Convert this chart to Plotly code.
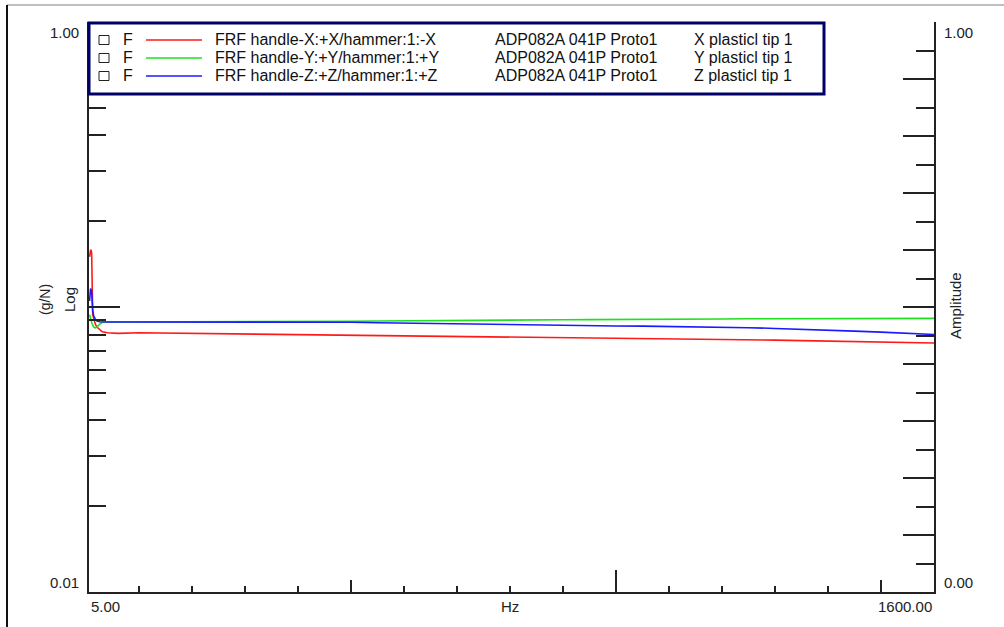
import plotly.graph_objects as go

# frequency axis (Hz)
freq = [6, 7, 8, 9, 10, 12, 14, 17, 20, 25, 30, 40, 60, 100, 150, 200, 250, 300, 350, 400,
        450, 500, 550, 600, 650, 700, 750, 800, 850, 900, 950, 1000, 1050, 1100, 1150, 1200,
        1250, 1300, 1350, 1400, 1450, 1500, 1550, 1600]

# FRF magnitudes (g/N)
frf_x = [0.150, 0.158, 0.158, 0.158, 0.155, 0.094, 0.091, 0.087, 0.085, 0.083, 0.0818, 0.0812,
         0.0808, 0.0812, 0.0810, 0.0809, 0.0806, 0.0807, 0.0804, 0.0803, 0.0801, 0.0797, 0.0795,
         0.0791, 0.0790, 0.0787, 0.0786, 0.0783, 0.0784, 0.0780, 0.0779, 0.0777, 0.0775, 0.0774,
         0.0771, 0.0770, 0.0767, 0.0765, 0.0762, 0.0760, 0.0757, 0.0754, 0.0751, 0.0748]
frf_y = [0.094, 0.093, 0.092, 0.090, 0.088, 0.086, 0.085, 0.0845, 0.0850, 0.0870, 0.0884, 0.0886,
         0.0886, 0.0886, 0.0886, 0.0886, 0.0886, 0.0886, 0.0886, 0.0887, 0.0888, 0.0890, 0.0893,
         0.0895, 0.0896, 0.0897, 0.0898, 0.0900, 0.0901, 0.0902, 0.0903, 0.0903, 0.0905, 0.0906,
         0.0907, 0.0908, 0.0909, 0.0910, 0.0910, 0.0911, 0.0911, 0.0912, 0.0912, 0.0912]
frf_z = [0.105, 0.115, 0.116, 0.115, 0.113, 0.097, 0.093, 0.0905, 0.0893, 0.0888, 0.0886, 0.0886,
         0.0886, 0.0886, 0.0886, 0.0886, 0.0886, 0.0886, 0.0885, 0.0885, 0.0885, 0.0884, 0.0880,
         0.0877, 0.0874, 0.0871, 0.0869, 0.0866, 0.0864, 0.0862, 0.0860, 0.0858, 0.0857, 0.0855,
         0.0853, 0.0850, 0.0846, 0.0841, 0.0836, 0.0830, 0.0823, 0.0816, 0.0808, 0.0801]

colors = ["#ff1a1a", "#1ee01e", "#1a1aff"]
names = ["FRF handle-X:+X/hammer:1:-X", "FRF handle-Y:+Y/hammer:1:+Y", "FRF handle-Z:+Z/hammer:1:+Z"]
devices = ["ADP082A 041P Proto1", "ADP082A 041P Proto1", "ADP082A 041P Proto1"]
tips = ["X plasticl tip 1", "Y plasticl tip 1", "Z plasticl tip 1"]

log_minor = [0.02, 0.03, 0.04, 0.05, 0.06, 0.07, 0.08, 0.09, 0.2, 0.3, 0.4, 0.5, 0.6, 0.7, 0.8, 0.9]

W, H = 1004, 627
L, R, T, B = 89, 934, 22, 592


def px(x):
    return (x - L) / (R - L)


def py(y):
    return (B - y) / (B - T)


fig = go.Figure()
for vals, c, n in zip([frf_x, frf_y, frf_z], colors, names):
    fig.add_trace(go.Scatter(x=freq, y=vals, mode="lines", name=n,
                             line=dict(color=c, width=1.6)))
# invisible trace to carry the amplitude axis
fig.add_trace(go.Scatter(x=[freq[0]], y=[0], yaxis="y2", xaxis="x", mode="markers",
                         marker=dict(opacity=0), showlegend=False, hoverinfo="skip"))

font = "Liberation Sans, Arial, sans-serif"

fig.update_layout(
    width=W, height=H,
    margin=dict(l=L, r=W - R, t=T, b=H - B),
    paper_bgcolor="white", plot_bgcolor="white",
    showlegend=False,
    font=dict(family=font, size=15, color="#222"),
    xaxis=dict(range=[5, 1600], showgrid=False, zeroline=False,
               showline=True, linecolor="#222", linewidth=2,
               ticks="inside", tickmode="array", tickvals=[500, 1500], ticklen=12,
               tickwidth=1.5, tickcolor="#222", showticklabels=False,
               minor=dict(tickmode="array", tickvals=[100, 200, 300, 400, 600, 700, 800, 900,
                                                      1100, 1200, 1300, 1400],
                          ticks="inside", ticklen=6, tickwidth=1.5, tickcolor="#222")),
    xaxis2=dict(range=[5, 1600], overlaying="x", side="bottom", anchor="y",
                showgrid=False, zeroline=False, showline=False,
                ticks="inside", tickmode="array", tickvals=[1000], ticklen=22,
                tickwidth=1.5, tickcolor="#222", showticklabels=False),
    yaxis=dict(type="log", range=[-2, 0], showgrid=False, zeroline=False,
               showline=True, linecolor="#222", linewidth=2,
               ticks="inside", tickmode="array", tickvals=[0.1], ticklen=31,
               tickwidth=1.5, tickcolor="#222", showticklabels=False,
               minor=dict(tickmode="array", tickvals=log_minor, ticks="inside",
                          ticklen=17, tickwidth=1.5, tickcolor="#222")),
    yaxis2=dict(range=[0, 1], overlaying="y", side="right", anchor="x",
                showgrid=False, zeroline=False,
                showline=True, linecolor="#222", linewidth=2,
                ticks="inside", dtick=0.1, tick0=0, ticklen=31,
                tickwidth=1.5, tickcolor="#222", showticklabels=False,
                minor=dict(dtick=0.05, ticks="inside", ticklen=18, tickwidth=1.5,
                           tickcolor="#222")),
)
# helper trace on xaxis2 so the 1000 Hz tick is drawn
fig.add_trace(go.Scatter(x=[freq[-1]], y=[frf_x[-1]], xaxis="x2", mode="markers",
                         marker=dict(opacity=0), showlegend=False, hoverinfo="skip"))

shapes = []
# outer frame lines
shapes.append(dict(type="line", xref="paper", yref="paper", x0=px(7), x1=px(W), y0=py(5), y1=py(5),
                   line=dict(color="#aaaaaa", width=1.5)))
shapes.append(dict(type="line", xref="paper", yref="paper", x0=px(7), x1=px(7), y0=py(5), y1=py(H),
                   line=dict(color="#111", width=2)))
# legend box
shapes.append(dict(type="rect", xref="paper", yref="paper", x0=px(89), x1=px(824), y0=py(94), y1=py(23),
                   line=dict(color="#000066", width=3), fillcolor="white", layer="above"))

annotations = []
rows = [40, 58, 76]
for i, y in enumerate(rows):
    shapes.append(dict(type="rect", xref="paper", yref="paper", x0=px(99), x1=px(109),
                       y0=py(y + 4.5), y1=py(y - 4.5), line=dict(color="#222", width=1),
                       fillcolor="white", layer="above"))
    shapes.append(dict(type="line", xref="paper", yref="paper", x0=px(146), x1=px(202),
                       y0=py(y), y1=py(y), line=dict(color=colors[i], width=1.5), layer="above"))
    for txt, xpos in [("F", 121), (names[i], 213), (devices[i], 493), (tips[i], 692)]:
        annotations.append(dict(text=txt, xref="paper", yref="paper", x=px(xpos), y=py(y),
                                xanchor="left", yanchor="middle", showarrow=False,
                                font=dict(size=16, color="#111")))

# tick labels
annotations += [
    dict(text="1.00", xref="paper", yref="y", x=px(81), y=0, yshift=-10, xanchor="right",
         yanchor="middle", showarrow=False),
    dict(text="0.01", xref="paper", yref="y", x=px(81), y=-2, yshift=10, xanchor="right",
         yanchor="middle", showarrow=False),
    dict(text="1.00", xref="paper", yref="y2", x=px(942), y=1, yshift=-10, xanchor="left",
         yanchor="middle", showarrow=False),
    dict(text="0.00", xref="paper", yref="y2", x=px(942), y=0, yshift=10, xanchor="left",
         yanchor="middle", showarrow=False),
    dict(text="5.00", xref="x", yref="paper", x=5, y=py(606), xanchor="left",
         yanchor="middle", showarrow=False),
    dict(text="Hz", xref="x", yref="paper", x=800, y=py(606), xanchor="center",
         yanchor="middle", showarrow=False),
    dict(text="1600.00", xref="x", yref="paper", x=1600, y=py(606), xanchor="right",
         yanchor="middle", showarrow=False),
    dict(text="(g/N)", xref="paper", yref="paper", x=px(45), y=py(300), textangle=-90,
         xanchor="center", yanchor="middle", showarrow=False, font=dict(size=14)),
    dict(text="Log", xref="paper", yref="paper", x=px(69), y=py(300), textangle=-90,
         xanchor="center", yanchor="middle", showarrow=False, font=dict(size=15)),
    dict(text="Amplitude", xref="paper", yref="paper", x=px(955), y=py(306), textangle=-90,
         xanchor="center", yanchor="middle", showarrow=False, font=dict(size=15)),
]

fig.update_layout(shapes=shapes, annotations=annotations)
# drop the default page margin so the figure sits at the window origin
fig.write_html("out.html", config={"displayModeBar": False},
               post_script="document.body.style.margin='0';")
